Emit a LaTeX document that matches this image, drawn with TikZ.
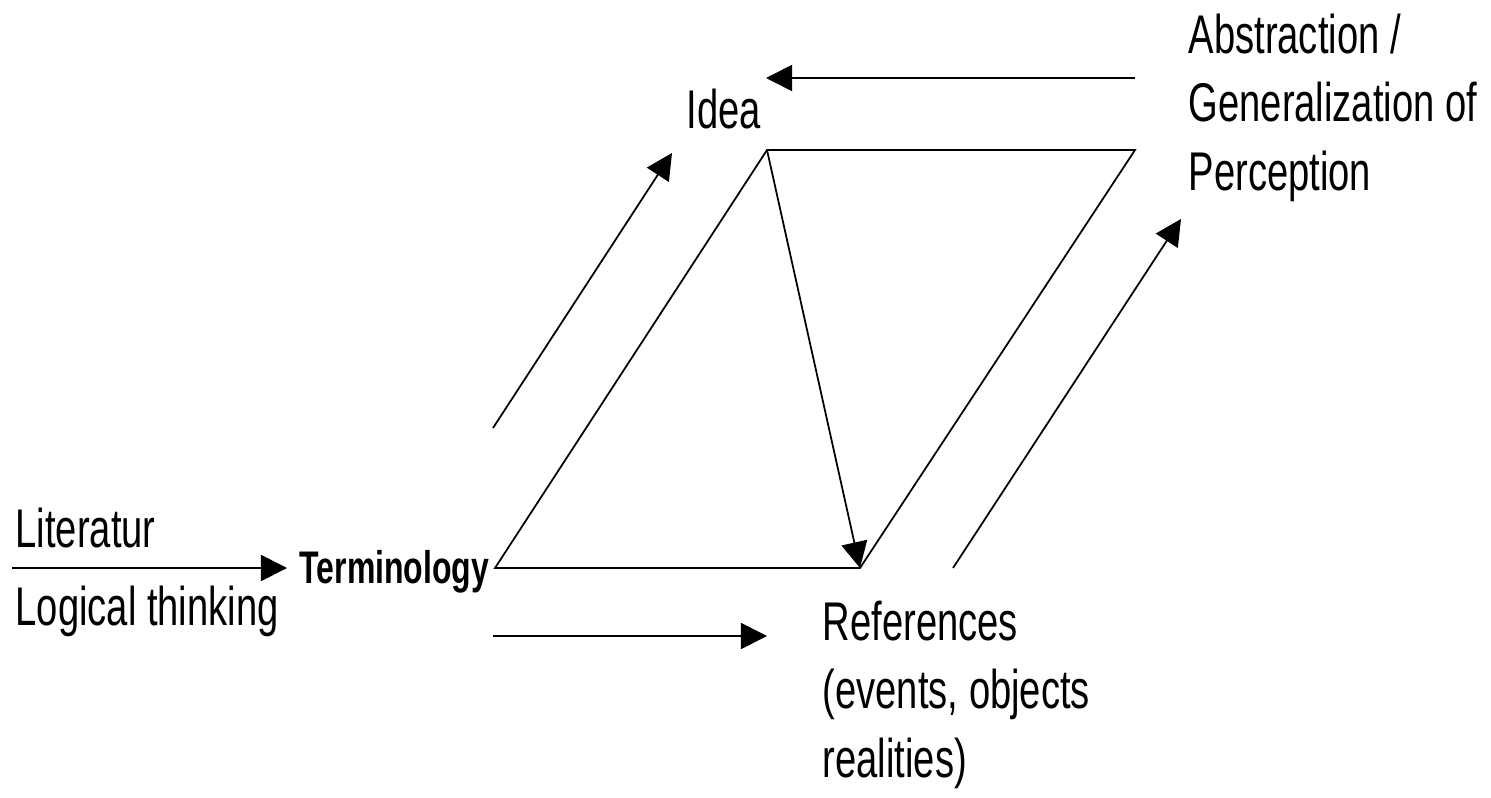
\documentclass[tikz,border=0pt]{standalone}
\usepackage{fontspec}
\setmainfont[FakeStretch=0.7]{Liberation Sans}
\usetikzlibrary{arrows.meta}
\tikzset{
  edge/.style={line width=0.5pt},
  flow/.style={edge, -{Triangle[length=0.26cm,width=0.26cm]}},
  lbl/.style={inner sep=0pt, font=\fontsize{15.5}{19.4}\selectfont, align=left},
}
\begin{document}
\begin{tikzpicture}[x=0.01cm,y=-0.01cm]
\useasboundingbox (0,0) rectangle (1491,797);

% corners of the parallelogram
\coordinate (term) at (495,568);
\coordinate (idea) at (767,150);
\coordinate (percept) at (1135,150);
\coordinate (ref) at (860,568);

\draw[edge] (term) -- (idea) -- (percept) -- (ref) -- cycle;
\draw[flow] (idea) -- (ref);

% labels (base = baseline of last line)
\node[lbl, anchor=base] (idealabel) at (724,128) {Idea};
\node[lbl, anchor=base west] (abstr) at (1188,190) {Abstraction /\\Generalization of\\Perception};
\node[lbl, anchor=base west] (lit) at (15,547) {Literatur};
\node[lbl, anchor=base west] (logic) at (15,625) {Logical thinking};
\node[lbl, anchor=base east, font=\bfseries\fontsize{13}{15}\selectfont] (termlabel) at (490,583) {Terminology};
\node[lbl, anchor=base west] (refs) at (822,777) {References\\(events, objects\\realities)};

% outer arrows
\coordinate (upstart) at (493,428);
\coordinate (upend) at (672,153);
\coordinate (risestart) at (953,568);
\coordinate (riseend) at (1181,219);
\coordinate (topstart) at (1135,78);
\coordinate (topend) at (766,78);
\coordinate (lowstart) at (493,636);
\coordinate (lowend) at (767,636);
\coordinate (litstart) at (12,568);
\coordinate (litend) at (287,568);

\draw[flow] (upstart) -- (upend);
\draw[flow] (risestart) -- (riseend);
\draw[flow] (topstart) -- (topend);
\draw[flow] (lowstart) -- (lowend);
\draw[flow] (litstart) -- (litend);
\end{tikzpicture}
\end{document}
